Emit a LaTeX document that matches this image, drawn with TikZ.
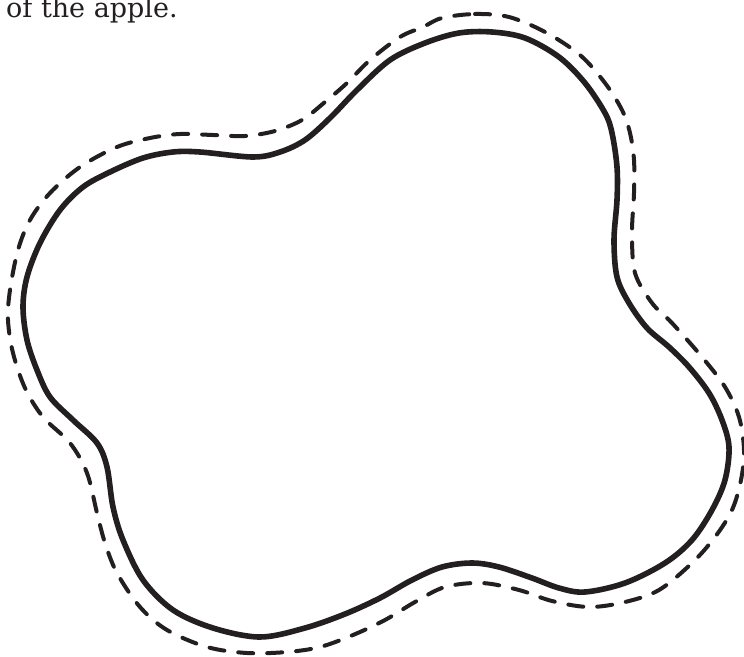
\documentclass[tikz,border=0pt]{standalone}
\usepackage{fontspec}
\setmainfont{DejaVu Serif}
\definecolor{ink}{RGB}{35,31,32}
\begin{document}
\begin{tikzpicture}[x=1pt,y=-1pt,
  outline/.style={draw=ink,line width=5.6pt,line join=round},
  cutline/.style={draw=ink,line width=4pt,line cap=round,dash pattern=on 15pt off 14pt},
  caption/.style={text=ink,inner sep=0pt,anchor=base west,font=\fontsize{27pt}{30pt}\selectfont}]
\useasboundingbox (0,0) rectangle (744,656);
\node[caption] (txt) at (6,17.3) {of the apple.};
\draw[outline] plot[smooth cycle,tension=0.55] coordinates {
(459,33) (492,32) (525,38) (559,57) (585,83) (605,113) (612,133) (617,167) (617,200) (614,240) (617,277) (629,303) (647,328) (669,347) (689,367) (709,393) (722,420) (729,447) (725,480) (712,510) (692,540) (665,563) (625,583) (585,592) (559,588) (532,578) (499,567) (472,563) (442,567) (412,580) (380,598) (345,614) (305,628) (260,637) (213,628) (173,610) (143,580) (123,540) (113,507) (107,467) (97,443) (73,420) (50,397) (37,370) (27,340) (23,307) (27,277) (40,243) (60,210) (83,187) (110,172) (143,158) (173,152) (200,152) (253,157) (280,152) (305,140) (330,118) (357,90) (390,60) (425,43)};
\draw[cutline] plot[smooth cycle,tension=0.55] coordinates {
(442,18) (475,14) (509,17) (545,32) (580,55) (605,83) (622,110) (630,133) (634,160) (634,193) (632,233) (635,273) (652,303) (672,323) (702,357) (725,387) (739,417) (744,450) (741,480) (732,510) (715,537) (692,563) (659,590) (625,602) (589,607) (552,601) (519,590) (482,583) (445,587) (415,602) (385,620) (353,635) (320,647) (287,652) (247,653) (207,647) (167,630) (140,607) (117,573) (105,543) (97,513) (87,473) (70,443) (43,417) (25,388) (13,353) (8,320) (10,290) (18,250) (30,220) (50,193) (80,167) (117,147) (150,138) (180,134) (213,135) (245,136) (275,131) (302,120) (325,102) (347,83) (370,60) (400,37) (423,27)};
\end{tikzpicture}
\end{document}
